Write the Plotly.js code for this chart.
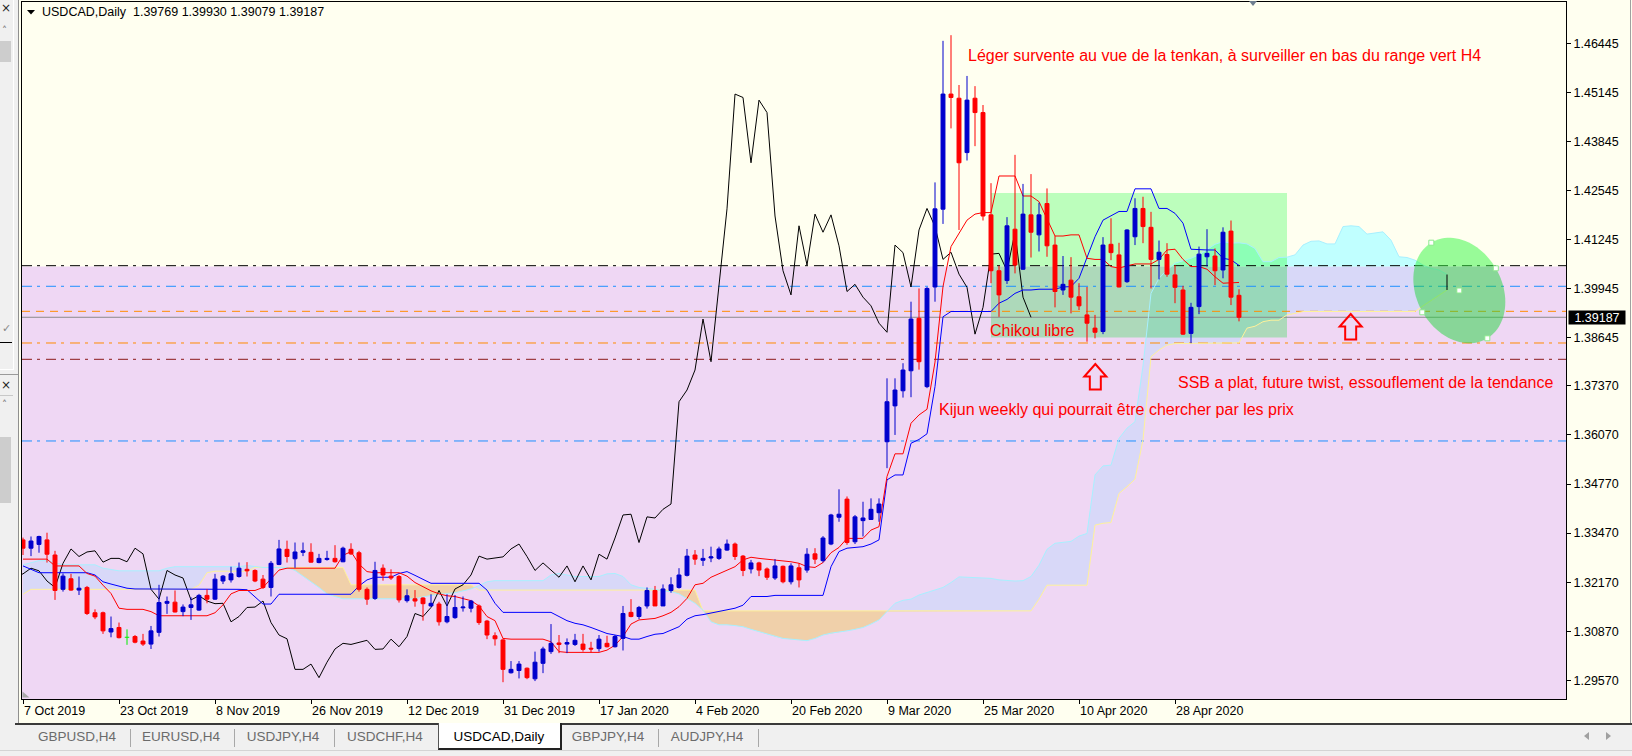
<!DOCTYPE html>
<html><head><meta charset="utf-8">
<script src="https://cdn.plot.ly/plotly-3.0.1.min.js"></script>
<style>
html,body{margin:0;padding:0;width:1632px;height:756px;overflow:hidden;background:#FFFFF0;font-family:"Liberation Sans",Arial,sans-serif;}
#chart{position:absolute;left:0;top:0;width:1632px;height:756px;}
.ov{position:absolute;}
.tab{position:absolute;top:728px;height:18px;line-height:18px;font-size:13.5px;color:#6b6b6b;text-align:center;white-space:nowrap;}
.sep{position:absolute;top:729px;width:1px;height:18px;background:#a8a8a8;}
</style></head><body>
<div id="chart"></div>
<!-- left panel chrome -->
<div class="ov" style="left:0;top:0;width:18px;height:723px;background:#F0F0F0;border-right:1px solid #8f8f8f;"></div>
<div class="ov" style="left:13px;top:0;width:1px;height:370px;background:#ffffff;"></div>
<div class="ov" style="left:1px;top:1px;font:12px 'DejaVu Sans';color:#222;">×</div>
<div class="ov" style="left:2px;top:25px;font:10px 'DejaVu Sans';color:#777;">˄</div>
<div class="ov" style="left:0;top:41px;width:11px;height:21px;background:#CDCDCD;"></div>
<div class="ov" style="left:2px;top:322px;font:11px 'DejaVu Sans';color:#888;">✓</div>
<div class="ov" style="left:0;top:342px;width:12px;height:1px;background:#000;"></div>
<div class="ov" style="left:0;top:369px;width:13px;height:1px;background:#ffffff;"></div>
<div class="ov" style="left:0;top:374px;width:18px;height:1px;background:#9a9a9a;"></div>
<div class="ov" style="left:1px;top:378px;font:12px 'DejaVu Sans';color:#222;">×</div>
<div class="ov" style="left:0;top:395px;width:13px;height:1px;background:#c8c8c8;"></div>
<div class="ov" style="left:2px;top:399px;font:10px 'DejaVu Sans';color:#777;">˄</div>
<div class="ov" style="left:0;top:437px;width:11px;height:66px;background:#CDCDCD;"></div>
<!-- window borders / markers -->
<div class="ov" style="left:1630px;top:0;width:1px;height:723px;background:#a0a0a0;"></div>
<div class="ov" style="left:1249px;top:1px;width:0;height:0;border-left:4px solid transparent;border-right:4px solid transparent;border-top:5px solid #6f7f90;"></div>
<div class="ov" style="left:23px;top:691px;width:0;height:0;border-top:7px solid #a8a8a8;border-right:6px solid transparent;transform:rotate(-90deg);"></div>
<!-- tab bar -->
<div class="ov" style="left:0;top:723px;width:1632px;height:33px;background:#F0F0F0;"></div>
<div class="ov" style="left:15px;top:723px;width:1617px;height:2px;background:#3a3a3a;"></div>
<div class="ov" style="left:0;top:750px;width:1632px;height:1px;background:#d4d4d4;"></div>
<div class="ov" style="left:438px;top:723px;width:121px;height:25px;background:#fff;border-left:1px solid #555;border-right:2px solid #222;border-bottom:2px solid #222;"></div>
<div class="sep" style="left:130px"></div><div class="sep" style="left:234px"></div>
<div class="sep" style="left:334px"></div><div class="sep" style="left:658px"></div>
<div class="sep" style="left:758px"></div>
<div class="tab" style="left:27px;width:100px">GBPUSD,H4</div>
<div class="tab" style="left:131px;width:100px">EURUSD,H4</div>
<div class="tab" style="left:233px;width:100px">USDJPY,H4</div>
<div class="tab" style="left:335px;width:100px">USDCHF,H4</div>
<div class="tab" style="left:439px;width:120px;color:#000">USDCAD,Daily</div>
<div class="tab" style="left:558px;width:100px">GBPJPY,H4</div>
<div class="tab" style="left:657px;width:100px">AUDJPY,H4</div>
<div class="ov" style="left:1584px;top:732px;width:0;height:0;border-top:4px solid transparent;border-bottom:4px solid transparent;border-right:5px solid #a0a0a0;"></div>
<div class="ov" style="left:1606px;top:732px;width:0;height:0;border-top:4px solid transparent;border-bottom:4px solid transparent;border-left:5px solid #a0a0a0;"></div>
<script>
// ---------------- DATA ----------------
const symbolName = 'USDCAD,Daily';
const dateLabels = ['7 Oct 2019','23 Oct 2019','8 Nov 2019','26 Nov 2019','12 Dec 2019','31 Dec 2019','17 Jan 2020','4 Feb 2020','20 Feb 2020','9 Mar 2020','25 Mar 2020','10 Apr 2020','28 Apr 2020'];
const dateBars = [0,12,24,36,48,60,72,84,96,108,120,132,144];
const priceTicks = [1.46445,1.45145,1.43845,1.42545,1.41245,1.39945,1.38645,1.37370,1.36070,1.34770,1.33470,1.32170,1.30870,1.29570];

const open = [
1.3329,1.3307,1.3317,1.3329,1.3289,1.3198,1.3226,1.3196,1.3203,1.3136,
1.3136,1.3085,1.3097,1.3071,1.3073,1.3061,1.3053,1.3084,1.3161,1.3164,
1.3139,1.3150,1.3143,1.3182,1.3172,1.3220,1.3223,1.3232,1.3251,1.3248,
1.3225,1.3203,1.3264,1.3304,1.3279,1.3296,1.3296,1.3269,1.3277,1.3280,
1.3271,1.3304,1.3295,1.3198,1.3174,1.3254,1.3233,1.3232,1.3168,1.3173,
1.3175,1.3154,1.3159,1.3112,1.3123,1.3149,1.3148,1.3154,1.3114,1.3075,
1.3064,1.2977,1.2983,1.2989,1.2961,1.3002,1.3033,1.3056,1.3053,1.3052,
1.3053,1.3042,1.3041,1.3055,1.3046,1.3068,1.3137,1.3126,1.3154,1.3195,
1.3154,1.3195,1.3203,1.3235,1.3289,1.3275,1.3281,1.3280,1.3302,1.3318,
1.3286,1.3252,1.3268,1.3252,1.3228,1.3259,1.3218,1.3255,1.3249,1.3292,
1.3274,1.3318,1.3389,1.3437,1.3324,1.3380,1.3383,1.3401,1.3589,1.3684,
1.3724,1.3777,1.3916,1.3735,1.3999,1.4205,1.4510,1.4499,1.4355,1.4499,
1.4461,1.4190,1.4042,1.4016,1.4152,1.4046,1.4190,1.4137,1.4220,1.4110,
1.3991,1.4017,1.3973,1.3925,1.3890,1.3881,1.4112,1.4084,1.4013,1.4132,
1.4207,1.4157,1.4072,1.4085,1.4031,1.3991,1.3876,1.3947,1.4079,1.4081,
1.4044,1.4147,1.39769];
const high = [
1.3335,1.3338,1.3340,1.3348,1.3300,1.3240,1.3239,1.3232,1.3207,1.3145,
1.3139,1.3126,1.3110,1.3092,1.3077,1.3080,1.3101,1.3210,1.3179,1.3195,
1.3158,1.3177,1.3186,1.3198,1.3239,1.3236,1.3258,1.3269,1.3270,1.3251,
1.3236,1.3273,1.3329,1.3327,1.3322,1.3322,1.3320,1.3292,1.3300,1.3315,
1.3311,1.3320,1.3300,1.3203,1.3271,1.3264,1.3251,1.3236,1.3198,1.3196,
1.3177,1.3185,1.3165,1.3185,1.3183,1.3179,1.3170,1.3158,1.3117,1.3084,
1.3068,1.3008,1.3008,1.2991,1.3033,1.3046,1.3106,1.3077,1.3068,1.3080,
1.3080,1.3059,1.3077,1.3075,1.3077,1.3154,1.3172,1.3154,1.3203,1.3207,
1.3211,1.3230,1.3254,1.3305,1.3302,1.3305,1.3311,1.3311,1.3330,1.3322,
1.3289,1.3276,1.3271,1.3256,1.3278,1.3261,1.3267,1.3267,1.3307,1.3307,
1.3339,1.3398,1.3463,1.3444,1.3395,1.3430,1.3439,1.3439,1.3757,1.3757,
1.3797,1.3960,1.3995,1.3999,1.4276,1.4651,1.4666,1.4534,1.4558,1.4531,
1.4481,1.4274,1.4055,1.4184,1.4349,1.4272,1.4298,1.4222,1.4260,1.4134,
1.4081,1.4078,1.4009,1.3999,1.3925,1.4131,1.4181,1.4116,1.4152,1.4234,
1.4238,1.4198,1.4122,1.4115,1.4057,1.4002,1.3957,1.4106,1.4152,1.4101,
1.4157,1.4175,1.39930];
const low = [
1.3289,1.3286,1.3295,1.3269,1.3170,1.3192,1.3194,1.3183,1.3130,1.3119,
1.3080,1.3071,1.3068,1.3051,1.3055,1.3048,1.3040,1.3073,1.3133,1.3137,
1.3127,1.3117,1.3141,1.3161,1.3170,1.3212,1.3216,1.3229,1.3232,1.3217,
1.3199,1.3179,1.3262,1.3269,1.3255,1.3286,1.3269,1.3267,1.3274,1.3269,
1.3270,1.3289,1.3192,1.3157,1.3170,1.3221,1.3223,1.3163,1.3163,1.3152,
1.3115,1.3152,1.3102,1.3108,1.3120,1.3139,1.3137,1.3104,1.3066,1.3049,
1.2952,1.2975,1.2962,1.2960,1.2955,1.2976,1.3027,1.3029,1.3029,1.3048,
1.3033,1.3031,1.3033,1.3044,1.3044,1.3036,1.3124,1.3119,1.3147,1.3154,
1.3154,1.3189,1.3200,1.3232,1.3263,1.3260,1.3270,1.3276,1.3300,1.3276,
1.3233,1.3240,1.3233,1.3223,1.3223,1.3214,1.3211,1.3203,1.3242,1.3265,
1.3269,1.3315,1.3377,1.3316,1.3318,1.3338,1.3382,1.3377,1.3519,1.3607,
1.3706,1.3707,1.3780,1.3731,1.3960,1.4166,1.4419,1.4150,1.4334,1.4372,
1.4175,1.4009,1.3920,1.4007,1.4035,1.4044,1.4077,1.4093,1.4079,1.3945,
1.3978,1.3929,1.3938,1.3854,1.3863,1.3874,1.4070,1.3998,1.4010,1.4110,
1.4115,1.3995,1.4019,1.4026,1.3956,1.3872,1.3850,1.3927,1.4053,1.4004,
1.4022,1.3951,1.39079];
const close = [
1.3307,1.3326,1.3338,1.3291,1.3195,1.3233,1.3196,1.3201,1.3134,1.3125,
1.3088,1.3094,1.3070,1.3071,1.3058,1.3053,1.3088,1.3163,1.3166,1.3138,
1.3151,1.3157,1.3182,1.3172,1.3225,1.3233,1.3239,1.3254,1.3247,1.3220,
1.3203,1.3267,1.3305,1.3285,1.3297,1.3300,1.3270,1.3280,1.3280,1.3271,
1.3307,1.3292,1.3198,1.3172,1.3248,1.3236,1.3228,1.3170,1.3181,1.3167,
1.3160,1.3161,1.3112,1.3126,1.3150,1.3151,1.3167,1.3110,1.3077,1.3067,
1.2986,1.2986,1.3000,1.2964,1.3005,1.3040,1.3055,1.3052,1.3057,1.3063,
1.3039,1.3040,1.3066,1.3046,1.3073,1.3134,1.3126,1.3150,1.3195,1.3154,
1.3199,1.3210,1.3236,1.3286,1.3278,1.3280,1.3284,1.3305,1.3318,1.3285,
1.3248,1.3268,1.3249,1.3230,1.3260,1.3218,1.3260,1.3223,1.3291,1.3278,
1.3334,1.3395,1.3397,1.3322,1.3390,1.3387,1.3410,1.3424,1.3695,1.3726,
1.3779,1.3914,1.3801,1.3995,1.4206,1.4510,1.4501,1.4328,1.4494,1.4461,
1.4187,1.4042,1.3978,1.4161,1.4057,1.4192,1.4144,1.4190,1.4108,1.3987,
1.4006,1.3972,1.3949,1.3903,1.3879,1.4110,1.4090,1.3999,1.4150,1.4207,
1.4159,1.4072,1.4091,1.4033,1.3998,1.3874,1.3945,1.4086,1.4088,1.4042,
1.4144,1.3972,1.39187];

const tenkan = [
1.3278,1.3278,1.3278,1.3278,1.3260,1.3260,1.3260,1.3260,1.3240,1.3233,
1.3209,1.3187,1.3148,1.3145,1.3145,1.3145,1.3139,1.3128,1.3128,1.3128,
1.3128,1.3128,1.3128,1.3128,1.3136,1.3157,1.3186,1.3195,1.3195,1.3195,
1.3203,1.3225,1.3249,1.3254,1.3254,1.3254,1.3254,1.3254,1.3254,1.3254,
1.3288,1.3298,1.3265,1.3245,1.3242,1.3242,1.3242,1.3242,1.3233,1.3216,
1.3205,1.3194,1.3186,1.3181,1.3179,1.3174,1.3168,1.3154,1.3126,1.3115,
1.3068,1.3066,1.3066,1.3066,1.3066,1.3066,1.3059,1.3033,1.3031,1.3031,
1.3031,1.3031,1.3031,1.3037,1.3050,1.3073,1.3106,1.3117,1.3119,1.3121,
1.3128,1.3137,1.3152,1.3174,1.3210,1.3214,1.3230,1.3239,1.3248,1.3258,
1.3276,1.3283,1.3280,1.3278,1.3274,1.3272,1.3271,1.3267,1.3258,1.3256,
1.3269,1.3295,1.3309,1.3333,1.3333,1.3333,1.3355,1.3364,1.3497,1.3557,
1.3557,1.3638,1.3660,1.3675,1.3800,1.4000,1.4106,1.4141,1.4176,1.4192,
1.4196,1.4196,1.4293,1.4293,1.4293,1.4240,1.4240,1.4225,1.4181,1.4134,
1.4134,1.4137,1.4137,1.4075,1.4072,1.4072,1.4053,1.4049,1.4055,1.4060,
1.4060,1.4060,1.4072,1.4097,1.4099,1.4072,1.4053,1.4053,1.4046,1.4026,
1.4009,1.4011,1.4011];
const kijun = [
1.3260,1.3252,1.3242,1.3242,1.3242,1.3242,1.3242,1.3242,1.3242,1.3236,
1.3218,1.3212,1.3207,1.3201,1.3199,1.3199,1.3198,1.3198,1.3198,1.3198,
1.3198,1.3198,1.3198,1.3198,1.3198,1.3198,1.3198,1.3198,1.3197,1.3177,
1.3159,1.3159,1.3185,1.3185,1.3185,1.3185,1.3185,1.3185,1.3185,1.3185,
1.3185,1.3185,1.3207,1.3223,1.3230,1.3230,1.3230,1.3240,1.3245,1.3235,
1.3225,1.3214,1.3214,1.3214,1.3214,1.3214,1.3214,1.3214,1.3196,1.3161,
1.3137,1.3137,1.3137,1.3137,1.3137,1.3137,1.3137,1.3126,1.3115,1.3108,
1.3104,1.3097,1.3090,1.3081,1.3077,1.3073,1.3066,1.3066,1.3073,1.3079,
1.3081,1.3089,1.3099,1.3119,1.3128,1.3131,1.3135,1.3139,1.3143,1.3148,
1.3156,1.3179,1.3179,1.3179,1.3182,1.3182,1.3182,1.3182,1.3182,1.3182,
1.3182,1.3258,1.3298,1.3307,1.3309,1.3311,1.3318,1.3329,1.3488,1.3501,
1.3501,1.3585,1.3595,1.3610,1.3735,1.3920,1.3934,1.3934,1.3934,1.3934,
1.3934,1.3934,1.3956,1.3966,1.3982,1.3991,1.3991,1.3993,1.3993,1.3993,
1.3999,1.4000,1.4022,1.4075,1.4132,1.4176,1.4187,1.4199,1.4199,1.4259,
1.4259,1.4259,1.4207,1.4207,1.4194,1.4168,1.4099,1.4097,1.4097,1.4097,
1.4075,1.4071,1.4056];
const senkouA = [
1.3263,1.3269,1.3274,1.3274,1.3269,1.3263,1.3263,1.3263,1.3263,1.3263,
1.3254,1.3250,1.3247,1.3247,1.3247,1.3247,1.3247,1.3247,1.3254,1.3258,
1.3258,1.3258,1.3258,1.3258,1.3258,1.3258,1.3258,1.3258,1.3261,1.3258,
1.3256,1.3256,1.3256,1.3256,1.3248,1.3234,1.3218,1.3203,1.3186,1.3179,
1.3173,1.3173,1.3173,1.3173,1.3173,1.3173,1.3173,1.3173,1.3173,1.3173,
1.3178,1.3182,1.3185,1.3187,1.3189,1.3194,1.3199,1.3208,1.3218,1.3221,
1.3221,1.3221,1.3221,1.3221,1.3221,1.3221,1.3236,1.3240,1.3236,1.3232,
1.3232,1.3232,1.3232,1.3239,1.3240,1.3232,1.3210,1.3203,1.3201,1.3198,
1.3194,1.3192,1.3186,1.3174,1.3161,1.3143,1.3112,1.3104,1.3104,1.3102,
1.3099,1.3092,1.3086,1.3080,1.3073,1.3068,1.3066,1.3064,1.3062,1.3068,
1.3077,1.3082,1.3084,1.3088,1.3092,1.3097,1.3106,1.3117,1.3139,1.3161,
1.3169,1.3172,1.3183,1.3189,1.3196,1.3203,1.3216,1.3231,1.3230,1.3229,
1.3228,1.3227,1.3223,1.3221,1.3220,1.3221,1.3232,1.3262,1.3304,1.3320,
1.3322,1.3325,1.3339,1.3346,1.3501,1.3525,1.3527,1.3598,1.3625,1.3642,
1.3790,1.3982,1.4022,1.4044,1.4062,1.4068,1.4075,1.4084,1.4099,1.4112,
1.4119,1.4115,1.4116,1.4113,1.4101,1.4066,1.4066,1.4077,1.4078,1.4084,
1.4110,1.4120,1.4121,1.4113,1.4113,1.4159,1.4161,1.4159,1.4139,1.4143,
1.4145,1.4123,1.4079,1.4077,1.4070,1.4057,1.4048,1.4044,1.4032];
const senkouB = [
1.3185,1.3198,1.3198,1.3198,1.3198,1.3198,1.3198,1.3198,1.3198,1.3198,
1.3198,1.3198,1.3198,1.3198,1.3198,1.3198,1.3198,1.3198,1.3198,1.3198,
1.3198,1.3198,1.3209,1.3242,1.3246,1.3246,1.3246,1.3246,1.3246,1.3256,
1.3256,1.3256,1.3256,1.3256,1.3256,1.3256,1.3256,1.3256,1.3256,1.3256,
1.3256,1.3210,1.3210,1.3210,1.3210,1.3210,1.3210,1.3210,1.3210,1.3210,
1.3210,1.3210,1.3210,1.3210,1.3210,1.3210,1.3210,1.3196,1.3196,1.3196,
1.3196,1.3196,1.3196,1.3196,1.3196,1.3196,1.3196,1.3196,1.3196,1.3196,
1.3196,1.3196,1.3196,1.3196,1.3196,1.3196,1.3196,1.3196,1.3196,1.3196,
1.3196,1.3196,1.3196,1.3196,1.3196,1.3141,1.3141,1.3141,1.3141,1.3141,
1.3141,1.3141,1.3141,1.3141,1.3141,1.3141,1.3141,1.3141,1.3141,1.3141,
1.3141,1.3141,1.3141,1.3141,1.3141,1.3141,1.3141,1.3141,1.3141,1.3141,
1.3141,1.3141,1.3141,1.3141,1.3141,1.3141,1.3141,1.3141,1.3141,1.3141,
1.3141,1.3141,1.3141,1.3141,1.3141,1.3141,1.3141,1.3172,1.3209,1.3209,
1.3209,1.3209,1.3209,1.3209,1.3368,1.3373,1.3375,1.3452,1.3470,1.3490,
1.3594,1.3814,1.3832,1.3845,1.3849,1.3849,1.3849,1.3849,1.3849,1.3849,
1.3849,1.3849,1.3851,1.3890,1.3895,1.3907,1.3911,1.3911,1.3925,1.3929,
1.3934,1.3934,1.3934,1.3934,1.3934,1.3934,1.3934,1.3934,1.3934,1.3934,
1.3934,1.3934,1.3934,1.3934,1.3934,1.3949,1.3963,1.3977,1.3991];
const chikouShift = 26;

// horizontal level objects (prices)
const levelPrices = [1.40554, 1.40008, 1.39345, 1.38506, 1.38074, 1.35910];
const levelColors = ['#000000', '#1E90FF', '#FF8C00', '#FF8C00', '#8B1A1A', '#1E90FF'];
const levelDashes = ['10px,5px,3px,6px', '10px,5px,3px,6px', '8px,6px', '10px,5px,3px,6px', '10px,5px,3px,6px', '10px,5px,3px,6px'];

// drawn objects (bar index / price)
const lavenderTop = 1.4053;
const rangeBox = {bar0: 121, bar1: 158, lo: 1.3865, hi: 1.4248};
const ellipseBars = [183.04, 184.10, 176.04, 174.91];
const ellipsePrices = [1.38630, 1.40485, 1.41163, 1.39319];
const arrowBars = [134.04, 165.96];
const arrowPrices = [1.37950, 1.39274];
const noteTexts = ['Léger survente au vue de la tenkan, à surveiller en bas du range vert H4', 'Chikou libre', 'Kijun weekly qui pourrait être chercher par les prix', 'SSB a plat, future twist, essouflement de la tendance'];
const noteBars = [117.9, 120.6, 114.25, 144.1];
const notePrices = [1.46135, 1.38850, 1.36757, 1.37472];

// ---------------- LAYOUT GEOMETRY ----------------
const W = 1632, H = 756, M = {l: 22, r: 66, t: 2, b: 57};
const PW = W - M.l - M.r, PH = H - M.t - M.b;
const XR = [-0.125, 192.875], YR = [1.29075, 1.47539];
const pxX = PW / (XR[1] - XR[0]), pxY = PH / (YR[1] - YR[0]);
const paperX = px => (px - M.l) / PW;
const paperY = py => 1 - (py - M.t) / PH;
const FONT = 'Liberation Sans, Arial, sans-serif';

// ---------------- CLOUD ----------------
function cloudTraces(A, B, specs) {
  const levels = [lavenderTop, rangeBox.lo, rangeBox.hi];
  const pts = [];
  for (let i = 0; i < A.length; i++) {
    pts.push([i, A[i], B[i]]);
    if (i < A.length - 1) {
      const a0 = A[i], a1 = A[i + 1], b0 = B[i], b1 = B[i + 1];
      const ts = [];
      const d0 = a0 - b0, d1 = a1 - b1;
      if (d0 * d1 < 0) ts.push(d0 / (d0 - d1));
      levels.forEach(L => {
        if ((a0 - L) * (a1 - L) < 0) ts.push((a0 - L) / (a0 - a1));
        if ((b0 - L) * (b1 - L) < 0) ts.push((b0 - L) / (b0 - b1));
      });
      ts.sort((p, q) => p - q).forEach(t => pts.push([i + t, a0 + (a1 - a0) * t, b0 + (b1 - b0) * t]));
    }
  }
  return specs.map(s => {
    const sel = pts.filter(p => p[0] >= s.x0 - 1e-9 && p[0] <= s.x1 + 1e-9);
    const xs = [], top = [], bot = [];
    const cl = v => Math.max(s.lo, Math.min(s.hi, v));
    sel.forEach(([x, a, b]) => {
      let lo = Math.min(a, b), hi = Math.max(a, b);
      const bull = a >= b;
      if ((s.kind === 'bull' && !bull) || (s.kind === 'bear' && bull)) hi = lo;
      xs.push(x); top.push(cl(hi)); bot.push(cl(lo));
    });
    return {type: 'scatter', mode: 'lines', x: xs.concat(xs.slice().reverse()), y: top.concat(bot.slice().reverse()),
      fill: 'toself', fillcolor: s.color, line: {width: 0, color: 'rgba(0,0,0,0)'}, hoverinfo: 'skip', xaxis: 'x', yaxis: 'y'};
  });
}
const C_LOW = '#D8D8F8', C_HIGH = '#C0FFFF', C_BEAR = '#F0D0AA', C_BOXLOW = '#98D8BA', C_BOXHIGH = '#8CFFB6';
const last = senkouA.length - 1;
const specs = [
  {x0: 0, x1: rangeBox.bar0, lo: -10, hi: lavenderTop, kind: 'bull', color: C_LOW},
  {x0: 0, x1: rangeBox.bar0, lo: lavenderTop, hi: 10, kind: 'bull', color: C_HIGH},
  {x0: 0, x1: last, lo: -10, hi: 10, kind: 'bear', color: C_BEAR},
  {x0: rangeBox.bar0, x1: rangeBox.bar1, lo: -10, hi: rangeBox.lo, kind: 'bull', color: C_LOW},
  {x0: rangeBox.bar0, x1: rangeBox.bar1, lo: rangeBox.lo, hi: lavenderTop, kind: 'bull', color: C_BOXLOW},
  {x0: rangeBox.bar0, x1: rangeBox.bar1, lo: lavenderTop, hi: rangeBox.hi, kind: 'bull', color: C_BOXHIGH},
  {x0: rangeBox.bar0, x1: rangeBox.bar1, lo: rangeBox.hi, hi: 10, kind: 'bull', color: C_HIGH},
  {x0: rangeBox.bar1, x1: last, lo: -10, hi: lavenderTop, kind: 'bull', color: C_LOW},
  {x0: rangeBox.bar1, x1: last, lo: lavenderTop, hi: 10, kind: 'bull', color: C_HIGH}
];

const traces = cloudTraces(senkouA, senkouB, specs);
const barIdx = open.map((_, i) => i);
const cloudIdx = senkouA.map((_, i) => i);

// level lines
levelPrices.forEach((p, k) => traces.push({type: 'scatter', mode: 'lines', x: [XR[0], XR[1]], y: [p, p],
  line: {color: levelColors[k], width: 1, dash: levelDashes[k]}, hoverinfo: 'skip'}));
// bid line
const lastClose = close[close.length - 1];
traces.push({type: 'scatter', mode: 'lines', x: [XR[0], XR[1]], y: [lastClose, lastClose], line: {color: '#8a8a8a', width: 1}, hoverinfo: 'skip'});
// senkou lines
traces.push({type: 'scatter', mode: 'lines', x: cloudIdx, y: senkouB, line: {color: '#FFF29A', width: 1}, hoverinfo: 'skip'});
traces.push({type: 'scatter', mode: 'lines', x: cloudIdx, y: senkouA, line: {color: '#A8F0FF', width: 1}, hoverinfo: 'skip'});
// chikou
traces.push({type: 'scatter', mode: 'lines', x: barIdx.map(i => i - chikouShift), y: close, line: {color: '#000000', width: 1}, hoverinfo: 'skip'});
// kijun / tenkan
traces.push({type: 'scatter', mode: 'lines', x: barIdx, y: kijun, line: {color: '#0000FF', width: 1}, hoverinfo: 'skip'});
traces.push({type: 'scatter', mode: 'lines', x: barIdx, y: tenkan, line: {color: '#FF0000', width: 1}, hoverinfo: 'skip'});

// candles (overlay subplot so they sit on top)
const cIdx = barIdx.filter(i => open[i] !== close[i]);
traces.push({type: 'candlestick', xaxis: 'x2', yaxis: 'y2', x: cIdx,
  open: cIdx.map(i => open[i]), high: cIdx.map(i => high[i]), low: cIdx.map(i => low[i]), close: cIdx.map(i => close[i]),
  increasing: {line: {color: '#0000CD', width: 1}, fillcolor: '#0000CD'},
  decreasing: {line: {color: '#FF0000', width: 1}, fillcolor: '#FF0000'},
  whiskerwidth: 0, hoverinfo: 'skip'});
const dIdx = barIdx.filter(i => open[i] === close[i]);
const dx = [], dy = [];
dIdx.forEach(i => { dx.push(i - 0.28, i + 0.28, null, i, i, null); dy.push(open[i], open[i], null, low[i], high[i], null); });
traces.push({type: 'scatter', mode: 'lines', xaxis: 'x2', yaxis: 'y2', x: dx, y: dy, line: {color: '#00EE00', width: 1}, hoverinfo: 'skip'});

// ---------------- SHAPES ----------------
const shapes = [];
shapes.push({type: 'rect', xref: 'x', yref: 'y', x0: XR[0], x1: XR[1], y0: YR[0], y1: lavenderTop, fillcolor: '#EFD7F4', line: {width: 0}, layer: 'below'});
shapes.push({type: 'rect', xref: 'x', yref: 'y', x0: rangeBox.bar0, x1: rangeBox.bar1, y0: lavenderTop, y1: rangeBox.hi, fillcolor: '#BCFEBC', line: {width: 0}, layer: 'below'});
shapes.push({type: 'rect', xref: 'x', yref: 'y', x0: rangeBox.bar0, x1: rangeBox.bar1, y0: rangeBox.lo, y1: lavenderTop, fillcolor: '#ADD9BA', line: {width: 0}, layer: 'below'});

// ellipse
const ec = [(ellipseBars[0] + ellipseBars[2]) / 2, (ellipsePrices[0] + ellipsePrices[2]) / 2];
const eu = [ellipseBars[0] - ec[0], ellipsePrices[0] - ec[1]];
const ev = [ellipseBars[1] - ec[0], ellipsePrices[1] - ec[1]];
const epoly = [];
for (let k = 0; k < 96; k++) { const t = 2 * Math.PI * k / 96; epoly.push([ec[0] + eu[0] * Math.cos(t) + ev[0] * Math.sin(t), ec[1] + eu[1] * Math.cos(t) + ev[1] * Math.sin(t)]); }
function clipY(poly, L, above) {
  const out = [];
  for (let i = 0; i < poly.length; i++) {
    const P = poly[i], Q = poly[(i + 1) % poly.length];
    const pin = above ? P[1] >= L : P[1] <= L, qin = above ? Q[1] >= L : Q[1] <= L;
    if (pin) out.push(P);
    if (pin !== qin) { const t = (L - P[1]) / (Q[1] - P[1]); out.push([P[0] + (Q[0] - P[0]) * t, L]); }
  }
  return out;
}
const toPath = pts => 'M' + pts.map(p => p[0].toFixed(4) + ',' + p[1].toFixed(6)).join('L') + 'Z';
shapes.push({type: 'path', xref: 'x', yref: 'y', path: toPath(clipY(epoly, lavenderTop, true)), fillcolor: 'rgba(49,247,64,0.5)', line: {width: 0}, layer: 'above'});
shapes.push({type: 'path', xref: 'x', yref: 'y', path: toPath(clipY(epoly, lavenderTop, false)), fillcolor: 'rgba(33,214,60,0.5)', line: {width: 0}, layer: 'above'});
// cloud end edge
shapes.push({type: 'line', xref: 'x', yref: 'y', x0: last, x1: last, y0: senkouB[last], y1: senkouA[last], line: {color: '#000', width: 1}, layer: 'above'});
// anchor squares
const sq = ellipseBars.map((b, i) => [b, ellipsePrices[i]]).concat([ec]);
sq.forEach(([b, p]) => shapes.push({type: 'rect', xref: 'x', yref: 'y', xsizemode: 'pixel', ysizemode: 'pixel', xanchor: b, yanchor: p,
  x0: -2.5, x1: 2.5, y0: -2.5, y1: 2.5, fillcolor: '#FFFFFF', line: {color: '#8EE88E', width: 1}, layer: 'above'}));
// arrows
const arrowPts = [[0, 0], [11, 12.5], [5.5, 12.5], [5.5, 25.5], [-5.5, 25.5], [-5.5, 12.5], [-11, 12.5]];
arrowBars.forEach((b, k) => {
  const pts = arrowPts.map(([ax, ay]) => [b + ax / pxX, arrowPrices[k] - ay / pxY]);
  shapes.push({type: 'path', xref: 'x', yref: 'y', path: toPath(pts), fillcolor: 'rgba(0,0,0,0)', line: {color: '#FF0000', width: 2}, layer: 'above'});
});
// header triangle
shapes.push({type: 'path', xref: 'paper', yref: 'paper', path: 'M' + paperX(27) + ',' + paperY(10) + 'L' + paperX(35) + ',' + paperY(10) + 'L' + paperX(31) + ',' + paperY(14.5) + 'Z', fillcolor: '#000', line: {width: 0}});

// ---------------- ANNOTATIONS ----------------
const annotations = [];
const hdr = symbolName + '\u00A0\u00A0' + [open, high, low, close].map(a => a[a.length - 1].toFixed(5)).join(' ');
annotations.push({xref: 'paper', yref: 'paper', x: paperX(40), y: paperY(12), xanchor: 'left', yanchor: 'middle', showarrow: false, text: hdr, font: {family: FONT, size: 12.5, color: '#000'}});
noteTexts.forEach((t, k) => annotations.push({xref: 'x', yref: 'y', x: noteBars[k], y: notePrices[k], xanchor: 'left', yanchor: 'middle', showarrow: false, text: t, font: {family: FONT, size: 16, color: '#FF0000'}}));
annotations.push({xref: 'paper', yref: 'y', x: paperX(1568), y: lastClose, xanchor: 'left', yanchor: 'middle', showarrow: false, text: lastClose.toFixed(5),
  font: {family: FONT, size: 12.5, color: '#FFFFFF'}, bgcolor: '#000000', borderpad: 1, width: 54, height: 11});

const axFont = {family: FONT, size: 12.5, color: '#000'};
const layout = {
  width: W, height: H, margin: {l: M.l, r: M.r, t: M.t, b: M.b, pad: 0},
  paper_bgcolor: '#FFFFF0', plot_bgcolor: '#FFFFF0', showlegend: false, hovermode: false,
  font: axFont,
  xaxis: {range: XR, showgrid: false, zeroline: false, showline: true, linecolor: '#000', linewidth: 1, mirror: true,
    ticks: 'outside', ticklen: 4, tickcolor: '#000', tickmode: 'array', tickvals: dateBars, ticktext: dateLabels,
    ticklabelposition: 'outside right', tickfont: axFont, fixedrange: true, rangeslider: {visible: false}},
  yaxis: {range: YR, side: 'right', showgrid: false, zeroline: false, showline: true, linecolor: '#000', linewidth: 1, mirror: true,
    ticks: 'outside', ticklen: 4, tickcolor: '#000', tickmode: 'array', tickvals: priceTicks, ticktext: priceTicks.map(v => v.toFixed(5)),
    tickfont: axFont, fixedrange: true},
  xaxis2: {overlaying: 'x', range: XR, visible: false, fixedrange: true, rangeslider: {visible: false}},
  yaxis2: {overlaying: 'y', range: YR, visible: false, fixedrange: true},
  shapes: shapes, annotations: annotations
};
Plotly.newPlot('chart', traces, layout, {staticPlot: true, displayModeBar: false});
</script>
</body></html>
